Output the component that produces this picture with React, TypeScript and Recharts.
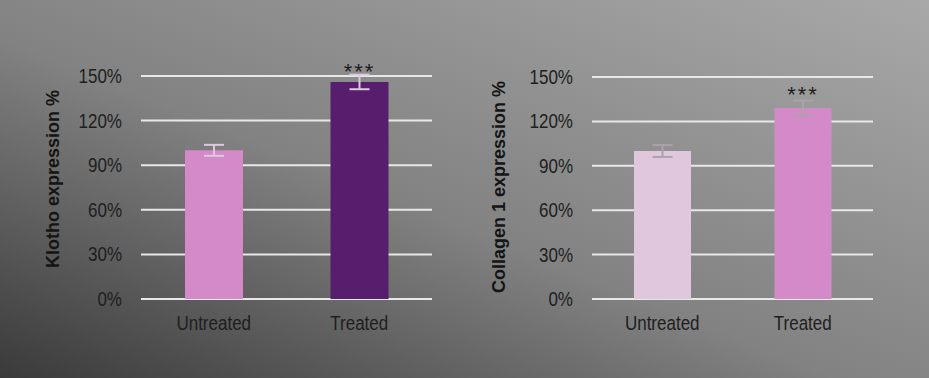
import { BarChart, Bar, XAxis, YAxis, CartesianGrid, Cell, ErrorBar, LabelList } from 'recharts';

const categories = ['Untreated', 'Treated'];
const klothoValues = [100, 146];
const klothoErrors = [3.7, 4.9];
const collagenValues = [100, 129];
const collagenErrors = [4, 5];
const significance = ['', '***'];
const yTicks = [0, 30, 60, 90, 120, 150];

const klothoColors = ['#d48ac8', '#561e6c'];
const collagenColors = ['#e0c7de', '#d48ac8'];

const FONT = '"Liberation Sans", Arial, sans-serif';
const STRETCH = 1.17; // the source picture is a little taller than wide

const klothoData = categories.map((name, i) => ({
  name,
  value: klothoValues[i],
  err: klothoErrors[i],
  sig: significance[i],
}));

const collagenData = categories.map((name, i) => ({
  name,
  value: collagenValues[i],
  err: collagenErrors[i],
  sig: significance[i],
}));

function XTick({ x, y, payload }: any) {
  return (
    <text
      transform={`translate(${x},${y}) scale(1,${STRETCH})`}
      textAnchor="middle"
      dy="0.71em"
      fill="#1e1e1e"
      fontSize={17}
    >
      {payload.value}
    </text>
  );
}

function YTick({ x, y, payload }: any) {
  return (
    <text
      transform={`translate(${x},${y}) scale(1,${STRETCH})`}
      textAnchor="end"
      dy="0.355em"
      fill="#1e1e1e"
      fontSize={17}
    >
      {`${payload.value}%`}
    </text>
  );
}

type PanelProps = {
  data: Array<{ name: string; value: number; err: number; sig: string }>;
  colors: string[];
  width: number;
  axisWidth: number;
  top: number;
  right: number;
  barSize: number;
  title: string;
  titleDx: number;
  titleDy: number;
  errColor: string;
  sigOffset: number;
};

function Panel(p: PanelProps) {
  return (
    <BarChart
      width={p.width}
      height={378}
      data={p.data}
      margin={{ top: p.top, right: p.right, bottom: 39, left: 0 }}
      style={{ fontFamily: FONT }}
    >
      <CartesianGrid vertical={false} stroke="#e8e8e8" strokeWidth={2} />
      <XAxis
        dataKey="name"
        axisLine={false}
        tickLine={false}
        tickSize={0}
        tickMargin={17}
        height={40}
        tick={<XTick />}
      />
      <YAxis
        width={p.axisWidth}
        domain={[0, 150]}
        allowDataOverflow
        ticks={yTicks}
        axisLine={false}
        tickLine={false}
        tickSize={0}
        tickMargin={19}
        tick={<YTick />}
        label={{
          value: p.title,
          angle: -90,
          position: 'center',
          dx: p.titleDx,
          dy: p.titleDy,
          style: { fill: '#141414', fontSize: 18, fontWeight: 'bold' },
        }}
      />
      <Bar dataKey="value" barSize={p.barSize} isAnimationActive={false}>
        {p.data.map((d, i) => (
          <Cell key={d.name} fill={p.colors[i]} />
        ))}
        <ErrorBar dataKey="err" width={10} stroke={p.errColor} strokeWidth={2} />
        <LabelList
          dataKey="sig"
          position="top"
          offset={p.sigOffset}
          style={{ fill: '#1e1e1e', fontSize: 22, letterSpacing: 2 }}
        />
      </Bar>
    </BarChart>
  );
}

export default function App() {
  return (
    <div
      style={{
        position: 'absolute',
        left: 0,
        top: 0,
        width: 929,
        height: 378,
        overflow: 'hidden',
        background: 'linear-gradient(to top right, #3a3a3a 0%, #828282 45%, #a8a8a8 100%)',
        display: 'flex',
      }}
    >
      <Panel
        data={klothoData}
        colors={klothoColors}
        width={460}
        axisWidth={141}
        top={76}
        right={28}
        barSize={58}
        title="Klotho expression %"
        titleDx={-17.5}
        titleDy={-8.5}
        errColor="#dccadc"
        sigOffset={3}
      />
      <Panel
        data={collagenData}
        colors={collagenColors}
        width={469}
        axisWidth={132}
        top={77}
        right={56}
        barSize={57}
        title="Collagen 1 expression %"
        titleDx={-27}
        titleDy={-1}
        errColor="#aba2aa"
        sigOffset={6}
      />
    </div>
  );
}
